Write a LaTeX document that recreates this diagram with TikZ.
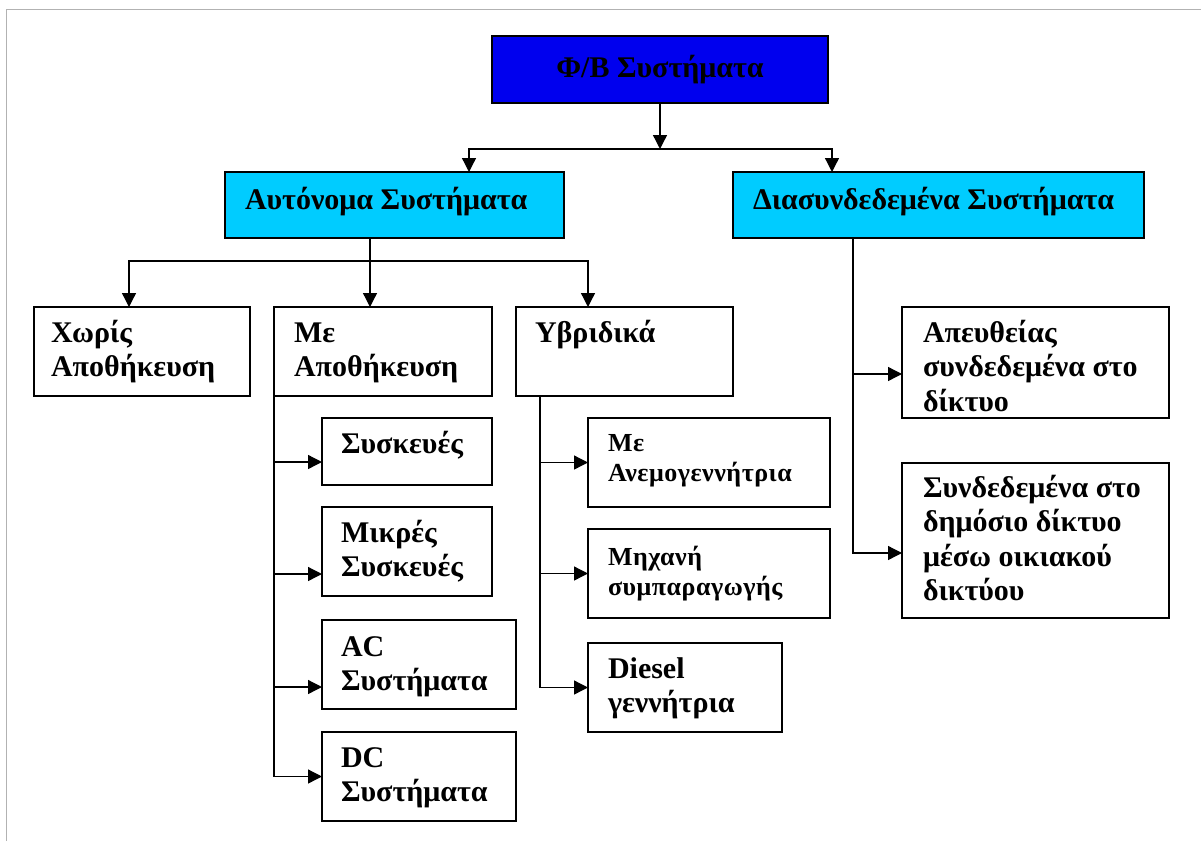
\documentclass[tikz,border=0pt]{standalone}
\usepackage{fontspec}
\setmainfont{Liberation Serif}
\usetikzlibrary{arrows.meta,calc}
\definecolor{topblue}{RGB}{0,0,238}
\definecolor{subcyan}{RGB}{0,204,255}
\definecolor{framegray}{RGB}{178,178,178}
\newcommand{\bx}[6][white]{%
  \node[box,fill=#1,minimum width={#5-#3},minimum height={#6-#4},anchor=north west] (#2) at (#3,#4) {};}
\newcommand{\tx}[5][]{%
  \node[lbl,#1,anchor=base west] (#2) at (#3,#4) {\vtop{\halign{##\hfil\cr#5\crcr}}};}
\tikzset{
  box/.style={draw=black,line width=1.3pt,inner sep=0pt,outer sep=0pt},
  lbl/.style={inner sep=0pt,outer sep=0pt,font=\bfseries\fontsize{30}{34.5}\selectfont},
  small/.style={font=\bfseries\fontsize{26}{30}\selectfont\addfontfeature{LetterSpace=2}},
  arr/.style={draw=black,line width=1.3pt,-{Triangle[length=14pt,width=14pt]}},
  ln/.style={draw=black,line width=1.3pt}
}
\begin{document}
\begin{tikzpicture}[x=1pt,y=-1pt]
\useasboundingbox (0,0) rectangle (1201,841);
\draw[framegray,line width=1.5pt] (6.7,841) -- (6.7,9.7) -- (1201,9.7);
% boxes
\bx[topblue]{top}{492}{36}{828}{103}
\bx[subcyan]{aut}{225}{172}{564}{238}
\bx[subcyan]{dia}{733}{172}{1144}{238}
\bx{xor}{34}{307}{250}{396}
\bx{me}{274}{307}{492}{396}
\bx{hy}{516}{307}{733}{396}
\bx{sk}{322}{418}{492}{485}
\bx{mk}{322}{507}{492}{596}
\bx{ac}{322}{620}{516}{709}
\bx{dc}{322}{732}{516}{821}
\bx{ae}{588}{418}{830}{507}
\bx{mx}{588}{529}{830}{618}
\bx{ds}{588}{643}{782}{732}
\bx{ap}{902}{307}{1169}{418}
\bx{sd}{902}{463}{1169}{618}
% texts
\node[lbl,anchor=base] (top-t) at (660,77) {Φ/Β Συστήματα};
\tx{aut-t}{245}{209}{Αυτόνομα Συστήματα}
\tx{dia-t}{753}{209}{Διασυνδεδεμένα Συστήματα}
\tx{xor-t}{51}{342}{Χωρίς\cr Αποθήκευση}
\tx{me-t}{294}{342}{Με\cr Αποθήκευση}
\tx{hy-t}{535}{342}{Υβριδικά}
\tx{sk-t}{341}{453}{Συσκευές}
\tx{mk-t}{341}{542}{Μικρές\cr Συσκευές}
\tx{ac-t}{341}{656}{AC\cr Συστήματα}
\tx{dc-t}{341}{767}{DC\cr Συστήματα}
\tx[small]{ae-t}{608}{451}{Με\cr Ανεμογεννήτρια}
\tx[small]{mx-t}{608}{565}{Μηχανή\cr συμπαραγωγής}
\tx{ds-t}{608}{678}{Diesel\cr γεννήτρια}
\tx{ap-t}{923}{342}{Απευθείας\cr συνδεδεμένα στο\cr δίκτυο}
\tx{sd-t}{923}{497}{Συνδεδεμένα στο\cr δημόσιο δίκτυο\cr μέσω οικιακού\cr δικτύου}
% connectors: level 1
\coordinate (j1) at (660,149);
\coordinate (ain) at (469,172);
\coordinate (din) at (832,172);
\draw[arr] (top.south) -- (j1);
\draw[arr] (j1) -| (ain);
\draw[arr] (j1) -| (din);
% autonomous
\coordinate (aout) at (370,238);
\coordinate (j2) at (370,261);
\coordinate (xin) at (129,307);
\coordinate (min) at (370,307);
\coordinate (hin) at (588,307);
\draw[arr] (aout) -- (min);
\draw[arr] (j2) -| (xin);
\draw[arr] (j2) -| (hin);
% storage children
\coordinate (m1) at (274,462);
\coordinate (m2) at (274,574);
\coordinate (m3) at (274,687);
\draw[arr] (me.south west) |- (dc.west);
\draw[arr] (m1) -- (m1 -| sk.west);
\draw[arr] (m2) -- (m2 -| mk.west);
\draw[arr] (m3) -- (m3 -| ac.west);
% hybrid children
\coordinate (hout) at (540,396);
\draw[arr] (hout) |- (ds.west);
\draw[arr] (hout |- ae.west) -- (ae.west);
\draw[arr] (hout |- mx.west) -- (mx.west);
% grid-connected children
\coordinate (dout) at (853,238);
\coordinate (d1) at (853,374);
\coordinate (d2) at (853,553);
\draw[arr] (dout) |- (d2 -| sd.west);
\draw[arr] (d1) -- (d1 -| ap.west);
\end{tikzpicture}
\end{document}
